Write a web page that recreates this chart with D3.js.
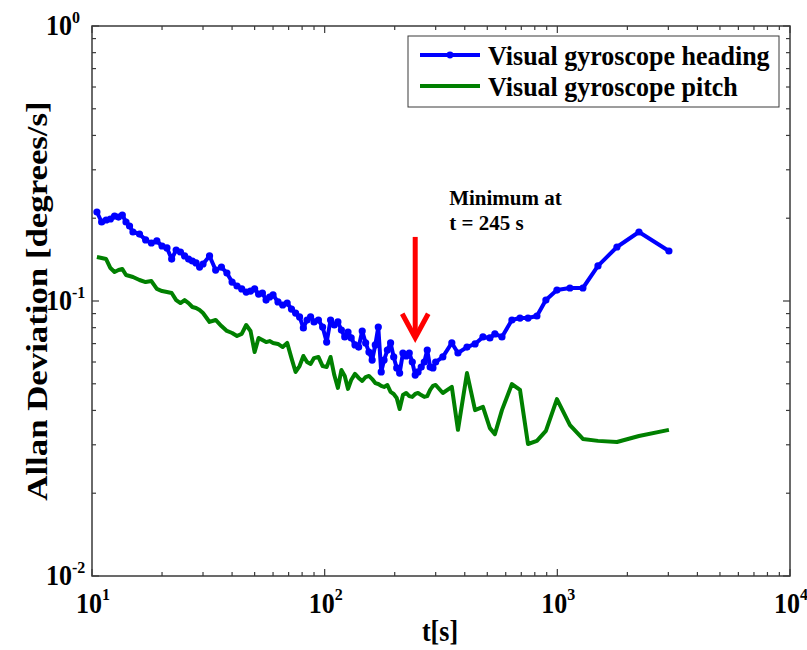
<!DOCTYPE html>
<html>
<head>
<meta charset="utf-8">
<script src="https://cdn.jsdelivr.net/npm/d3@7/dist/d3.min.js"></script>
<style>
  html, body { margin: 0; padding: 0; background: #fff; }
  svg { display: block; font-family: "Liberation Serif", "Times New Roman", serif; font-weight: bold; }
</style>
</head>
<body>
<svg id="chart" width="807" height="650"></svg>
<script>
// Averaging time tau [s], shared by both series
const tau = [
  10.5, 11, 11.5, 12, 12.5, 13, 13.5, 14, 14.5, 15,
  16, 17, 18, 19, 20, 21, 22, 23, 24, 25,
  26, 27, 28, 29, 30, 32, 34, 36, 38, 40,
  42, 44, 46, 48, 50, 52, 54, 56, 58, 60,
  63, 66, 69, 72, 75, 78, 81, 84, 87, 90,
  94, 98, 102, 106, 110, 114, 118, 122, 126, 130,
  135, 140, 145, 150, 155, 160, 165, 170, 175, 180,
  186, 192, 198, 204, 210, 217, 224, 231, 238, 245,
  252, 260, 268, 276, 284, 292, 300,
  322, 352, 374, 409, 443, 479, 513, 539, 578, 638,
  691, 748, 817, 893, 996, 1133, 1288, 1495, 1804, 2243,
  3017
];

// Allan deviation of the heading estimate [deg/s]
const heading = [
  0.2107, 0.1938, 0.1970, 0.1987, 0.2037, 0.2020, 0.2055, 0.1938, 0.1874, 0.1782,
  0.1752, 0.1667, 0.1625, 0.1653, 0.1585, 0.1559, 0.1421, 0.1533, 0.1507, 0.1458,
  0.1421, 0.1398, 0.1375, 0.1329, 0.1363, 0.1458, 0.1296, 0.1329, 0.1264, 0.1172,
  0.1134, 0.1106, 0.1078, 0.1087, 0.1106, 0.1060, 0.1069, 0.1008, 0.1034, 0.1052,
  0.0992, 0.0967, 0.0983, 0.0935, 0.0904, 0.0875, 0.0798, 0.0853, 0.0875, 0.0839,
  0.0853, 0.0804, 0.0709, 0.0853, 0.0818, 0.0839, 0.0784, 0.0740, 0.0771, 0.0734,
  0.0692, 0.0680, 0.0778, 0.0704, 0.0652, 0.0610, 0.0692, 0.0804, 0.0552, 0.0610,
  0.0663, 0.0704, 0.0626, 0.0571, 0.0547, 0.0647, 0.0631, 0.0647, 0.0600, 0.0538,
  0.0552, 0.0575, 0.0600, 0.0663, 0.0575, 0.0571, 0.0600,
  0.0626, 0.0704, 0.0647, 0.0680, 0.0698, 0.0740, 0.0734, 0.0759, 0.0740, 0.0853,
  0.0867, 0.0867, 0.0882, 0.1008, 0.1096, 0.1115, 0.1115, 0.1341, 0.1572, 0.1782,
  0.1520
];

// Allan deviation of the pitch estimate [deg/s]
const pitch = [
  0.1445, 0.1433, 0.1421, 0.1318, 0.1275, 0.1296, 0.1307, 0.1243, 0.1233, 0.1223,
  0.1192, 0.1172, 0.1182, 0.1106, 0.1087, 0.1078, 0.1069, 0.1008, 0.0983, 0.1008,
  0.0983, 0.0951, 0.0943, 0.0927, 0.0904, 0.0839, 0.0853, 0.0811, 0.0778, 0.0765,
  0.0746, 0.0759, 0.0818, 0.0778, 0.0652, 0.0734, 0.0721, 0.0709, 0.0715, 0.0704,
  0.0698, 0.0680, 0.0704, 0.0620, 0.0552, 0.0580, 0.0631, 0.0600, 0.0590, 0.0620,
  0.0626, 0.0580, 0.0575, 0.0626, 0.0538, 0.0483, 0.0561, 0.0534, 0.0479, 0.0516,
  0.0543, 0.0525, 0.0512, 0.0529, 0.0534, 0.0520, 0.0503, 0.0499, 0.0491, 0.0487,
  0.0495, 0.0467, 0.0459, 0.0444, 0.0405, 0.0455, 0.0463, 0.0451, 0.0448, 0.0459,
  0.0463, 0.0455, 0.0448, 0.0451, 0.0475, 0.0491, 0.0495,
  0.0463, 0.0487, 0.0340, 0.0547, 0.0401, 0.0412, 0.0345, 0.0328, 0.0401, 0.0499,
  0.0475, 0.0302, 0.0310, 0.0337, 0.0440, 0.0354, 0.0315, 0.0310, 0.0307, 0.0323,
  0.0340
];

const seriesNames = ["Visual gyroscope heading", "Visual gyroscope pitch"];
const seriesColors = ["#0000ff", "#008000"];

// Axis decades (tick labels drawn as 10 with a superscript exponent)
const xExponents = [1, 2, 3, 4];
const yExponents = [0, -1, -2];

// Annotated minimum of the heading curve
const minTau = 245;
const arrowTop = 0.171;
const arrowTip = 0.0735;
const noteLines = ["Minimum at", "t = 245 s"];
const noteTau = 343;
const noteVals = [0.2234, 0.1813];

const xLabel = "t[s]";
const yLabel = "Allan Deviation [degrees/s]";

// ---------------------------------------------------------------
const svg = d3.select("#chart");
const plotL = 92, plotR = 790, plotT = 26, plotB = 576;

const x = d3.scaleLog().domain([10, 1e4]).range([plotL, plotR]);
const y = d3.scaleLog().domain([0.01, 1]).range([plotB, plotT]);

const axisColor = "#3a3a3a";

// Minor and major ticks, pointing inward on all four sides
const xMajor = xExponents.map(e => Math.pow(10, e));
const yMajor = yExponents.map(e => Math.pow(10, e));
const xMinor = [], yMinor = [];
for (let d = 1; d < 4; d++) for (let k = 2; k <= 9; k++) xMinor.push(k * Math.pow(10, d));
for (let d = -2; d < 0; d++) for (let k = 2; k <= 9; k++) yMinor.push(k * Math.pow(10, d));

const ticks = svg.append("g").attr("stroke", axisColor).attr("stroke-width", 1.2);
function xTicks(vals, len) {
  vals.forEach(v => {
    const px = x(v);
    ticks.append("line").attr("x1", px).attr("x2", px).attr("y1", plotB).attr("y2", plotB - len);
    ticks.append("line").attr("x1", px).attr("x2", px).attr("y1", plotT).attr("y2", plotT + len);
  });
}
function yTicks(vals, len) {
  vals.forEach(v => {
    const py = y(v);
    ticks.append("line").attr("y1", py).attr("y2", py).attr("x1", plotL).attr("x2", plotL + len);
    ticks.append("line").attr("y1", py).attr("y2", py).attr("x1", plotR).attr("x2", plotR - len);
  });
}
xTicks(xMinor, 4); xTicks(xMajor, 7);
yTicks(yMinor, 4); yTicks(yMajor, 7);

// Data lines
const line = d3.line().x(d => x(d[0])).y(d => y(d[1]));
const headingPts = tau.map((t, i) => [t, heading[i]]);
const pitchPts = tau.map((t, i) => [t, pitch[i]]);

svg.append("path").datum(pitchPts).attr("d", line)
  .attr("fill", "none").attr("stroke", seriesColors[1]).attr("stroke-width", 4)
  .attr("stroke-linejoin", "round");

svg.append("path").datum(headingPts).attr("d", line)
  .attr("fill", "none").attr("stroke", seriesColors[0]).attr("stroke-width", 4)
  .attr("stroke-linejoin", "round");
svg.append("g").selectAll("circle").data(headingPts).join("circle")
  .attr("cx", d => x(d[0])).attr("cy", d => y(d[1])).attr("r", 3.6)
  .attr("fill", seriesColors[0]);

// Plot frame
svg.append("rect").attr("x", plotL).attr("y", plotT)
  .attr("width", plotR - plotL).attr("height", plotB - plotT)
  .attr("fill", "none").attr("stroke", axisColor).attr("stroke-width", 1.5);

// Tick labels (slightly tall serif glyphs)
const xl = svg.append("g").attr("fill", "#000");
xExponents.forEach(e => {
  const t = xl.append("text")
    .attr("transform", `translate(${x(Math.pow(10, e)) + 1},613) scale(1,1.1)`)
    .attr("text-anchor", "middle").attr("font-size", 26);
  t.append("tspan").text("10");
  t.append("tspan").attr("font-size", 16).attr("dy", -12).text(String(e));
});
yExponents.forEach(e => {
  const py = y(Math.pow(10, e));
  xl.append("text").attr("transform", `translate(72,${py + 9}) scale(1,1.1)`)
    .attr("text-anchor", "end").attr("font-size", 26).text("10");
  xl.append("text").attr("transform", `translate(72,${py - 3}) scale(1,1.1)`)
    .attr("text-anchor", "start").attr("font-size", 16)
    .text(e < 0 ? "-" + Math.abs(e) : String(e));
});

// Axis titles
svg.append("text").attr("transform", `translate(${(plotL + plotR) / 2 - 1},641) scale(1,1.1)`)
  .attr("text-anchor", "middle").attr("font-size", 26).text(xLabel);
svg.append("text")
  .attr("transform", `translate(47,${(plotT + plotB) / 2}) rotate(-90) scale(1.2,1)`)
  .attr("text-anchor", "middle").attr("font-size", 29).text(yLabel);

// Arrow pointing at the minimum
const ax = x(minTau);
const arrow = svg.append("g").attr("stroke", "#ff0000").attr("stroke-width", 5)
  .attr("fill", "none").attr("stroke-linecap", "butt");
arrow.append("line").attr("x1", ax).attr("x2", ax)
  .attr("y1", y(arrowTop)).attr("y2", y(arrowTip) - 3);
arrow.append("path")
  .attr("d", `M${ax - 13},${y(arrowTip) - 24} L${ax},${y(arrowTip)} L${ax + 13},${y(arrowTip) - 24}`)
  .attr("stroke-linejoin", "miter");

// Annotation text
noteLines.forEach((s, i) => {
  svg.append("text").attr("x", x(noteTau)).attr("y", y(noteVals[i]))
    .attr("font-size", 21).text(s);
});

// Legend
const lg = svg.append("g");
lg.append("rect").attr("x", 408).attr("y", 36).attr("width", 371).attr("height", 71)
  .attr("fill", "#fff").attr("stroke", axisColor).attr("stroke-width", 1);
seriesNames.forEach((name, i) => {
  const ly = 55 + i * 31;
  lg.append("line").attr("x1", 420).attr("x2", 480).attr("y1", ly).attr("y2", ly)
    .attr("stroke", seriesColors[i]).attr("stroke-width", 4);
  lg.append("circle").attr("cx", 450).attr("cy", ly).attr("r", i === 0 ? 3.4 : 1.5)
    .attr("fill", seriesColors[i]);
  lg.append("text").attr("transform", `translate(488,${ly + 10}) scale(1,1.08)`)
    .attr("font-size", 26).text(name);
});
</script>
</body>
</html>
